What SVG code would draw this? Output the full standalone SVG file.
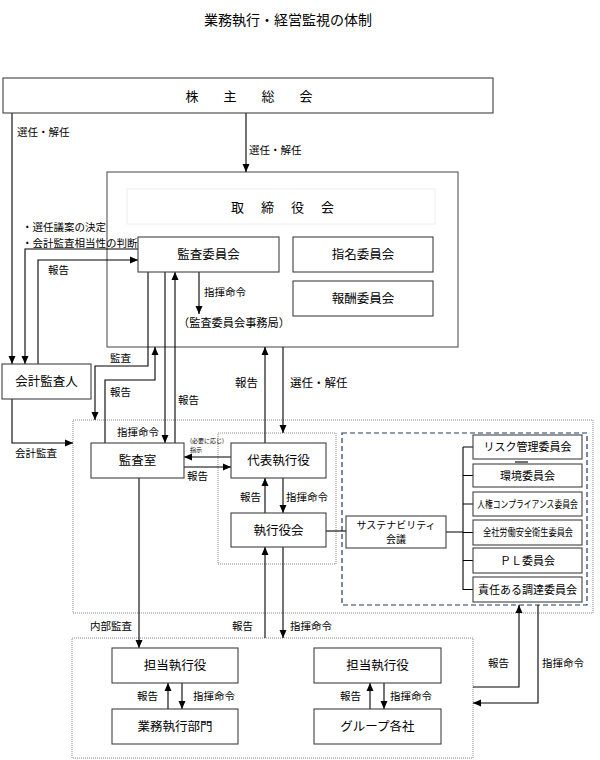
<svg xmlns="http://www.w3.org/2000/svg" width="600" height="760" viewBox="0 0 600 760">
<style>
text{font-family:"Noto Sans CJK JP","Noto Sans CJK SC",sans-serif;fill:#000}
.box{fill:#fff;stroke:#404040;stroke-width:1.1}
.bt{font-size:12.5px;text-anchor:middle}
.lb{font-size:10.5px}
.ct{font-size:11px;text-anchor:middle}
.dot{fill:none;stroke:#8a8a8a;stroke-width:1;stroke-dasharray:1 1}
.blue{fill:none;stroke:#1F3864;stroke-width:1.2;stroke-dasharray:5 3}
.ln{fill:none;stroke:#000;stroke-width:1.1}
.ar{fill:none;stroke:#000;stroke-width:1.1;marker-end:url(#ah)}
</style>
<defs>
<marker id="ah" markerUnits="userSpaceOnUse" markerWidth="8" markerHeight="8" viewBox="0 0 8 8" refX="8" refY="4" orient="auto">
<path d="M0,0.5 L8,4 L0,7.5 Z" fill="#000"/>
</marker>
</defs>
<rect width="600" height="760" fill="#fff"/>
<text x="204" y="25" style="font-size:14px">業務執行・経営監視の体制</text>

<g id="board">
<rect class="box" x="107" y="172" width="351" height="175" style="stroke:#555"/>
<rect x="127" y="189" width="308" height="35" fill="#fff" stroke="#eeeeee" stroke-width="1"/>
<text x="231" y="211.5" style="font-size:13px;letter-spacing:2px">取　締　役　会</text>
</g>

<g id="containers">
<rect class="dot" x="73" y="420" width="520" height="193"/>
<rect class="dot" x="218" y="433" width="118" height="131"/>
<rect class="blue" x="342" y="433" width="245" height="172"/>
<rect class="dot" x="72" y="638" width="401" height="120"/>
</g>

<g id="connectors">
<path class="ar" d="M12,113 V364"/>
<path class="ar" d="M246,113 V172"/>
<path class="ar" d="M138,249 H25 V364"/>
<path class="ar" d="M38,364 V260 H138"/>
<path class="ar" d="M148,272 V366 H95 V420"/>
<path class="ar" d="M165,272 V443"/>
<path class="ar" d="M175,443 V272"/>
<path class="ar" d="M105,443 V380 H155 V347"/>
<path class="ar" d="M199,272 V314"/>
<path class="ar" d="M265,443 V347"/>
<path class="ar" d="M283,347 V433"/>
<path class="ar" d="M12,399 V443 H73"/>
<path class="ar" d="M231,457 H184"/>
<path class="ar" d="M184,467 H231"/>
<path class="ar" d="M265,513 V478"/>
<path class="ar" d="M283,478 V513"/>
<path class="ln" d="M326,531 H346"/>
<path class="ln" d="M446,532 H463 M463,447 V590 M463,447 H473 M463,475.5 H473 M463,504 H473 M463,532.5 H473 M463,560.5 H473 M463,589.5 H473"/>
<path class="ln" d="M515,462 H528"/>
<path class="ar" d="M139,478 V648"/>
<path class="ar" d="M265,638 V547"/>
<path class="ar" d="M283,547 V638"/>
<path class="ar" d="M168,709 V683"/>
<path class="ar" d="M182,683 V709"/>
<path class="ar" d="M370,709 V683"/>
<path class="ar" d="M384,683 V709"/>
<path class="ar" d="M473,687 H519 V605"/>
<path class="ar" d="M538,605 V703 H473"/>
</g>

<g id="labels">
<text class="lb" x="17" y="136">選任・解任</text>
<text class="lb" x="249" y="154">選任・解任</text>
<text class="lb" x="22" y="231">・選任議案の決定</text>
<text class="lb" x="22" y="247">・会計監査相当性の判断</text>
<text class="lb" x="48" y="274">報告</text>
<text class="lb" x="204" y="296">指揮命令</text>
<text x="178" y="327" style="font-size:11.2px">（監査委員会事務局）</text>
<text class="lb" x="110" y="362">監査</text>
<text class="lb" x="110" y="396">報告</text>
<text class="lb" x="178" y="404">報告</text>
<text class="lb" x="117" y="436">指揮命令</text>
<text x="235" y="387" style="font-size:11.5px">報告</text>
<text x="290" y="387" style="font-size:11.5px">選任・解任</text>
<text class="lb" x="15" y="457">会計監査</text>
<text x="190" y="443" style="font-size:6px">(必要に応じ)</text>
<text x="190" y="451.5" style="font-size:6px">指示</text>
<text class="lb" x="187" y="480">報告</text>
<text class="lb" x="240" y="501">報告</text>
<text class="lb" x="286" y="501">指揮命令</text>
<text class="lb" x="90" y="630">内部監査</text>
<text class="lb" x="232" y="630">報告</text>
<text class="lb" x="290" y="630">指揮命令</text>
<text class="lb" x="137" y="700">報告</text>
<text class="lb" x="193" y="700">指揮命令</text>
<text class="lb" x="340" y="700">報告</text>
<text class="lb" x="390" y="700">指揮命令</text>
<text class="lb" x="488" y="667">報告</text>
<text class="lb" x="542" y="667">指揮命令</text>
</g>

<g id="shareholders">
<rect class="box" x="3" y="78" width="490" height="35"/>
<text x="185.5" y="100.5" style="font-size:13px;letter-spacing:6px">株　主　総　会</text>
</g>

<g id="audit-committee">
<rect class="box" x="138" y="237" width="141" height="35"/>
<text class="bt" x="208.5" y="259">監査委員会</text>
</g>
<g id="nomination-committee">
<rect class="box" x="293" y="237" width="140" height="35"/>
<text class="bt" x="363" y="259">指名委員会</text>
</g>
<g id="compensation-committee">
<rect class="box" x="293" y="281" width="140" height="35"/>
<text class="bt" x="363" y="303">報酬委員会</text>
</g>

<g id="accounting-auditor">
<rect class="box" x="2" y="364" width="89" height="35"/>
<text class="bt" x="46.5" y="386">会計監査人</text>
</g>

<g id="audit-office">
<rect class="box" x="91" y="443" width="93" height="35"/>
<text class="bt" x="137.5" y="465">監査室</text>
</g>

<g id="ceo">
<rect class="box" x="231" y="443" width="95" height="35"/>
<text class="bt" x="278.5" y="465">代表執行役</text>
</g>

<g id="exec-committee">
<rect class="box" x="231" y="513" width="95" height="34"/>
<text class="bt" x="278.5" y="534.5">執行役会</text>
</g>

<g id="sustainability">
<rect class="box" x="346" y="516" width="100" height="32"/>
<text x="396" y="529" style="font-size:10px;text-anchor:middle">サステナビリティ</text>
<text x="396" y="543" style="font-size:10px;text-anchor:middle">会議</text>
</g>

<g id="risk">
<rect class="box" x="473" y="435" width="109" height="24"/>
<text class="ct" x="527.5" y="451">リスク管理委員会</text>
</g>
<g id="env">
<rect class="box" x="473" y="464" width="109" height="23"/>
<text class="ct" x="527.5" y="479.5">環境委員会</text>
</g>
<g id="human-rights">
<rect class="box" x="473" y="492" width="109" height="24"/>
<text transform="translate(527.5,507.5) scale(0.78,1)" x="0" y="0" style="font-size:10px;text-anchor:middle">人権コンプライアンス委員会</text>
</g>
<g id="safety">
<rect class="box" x="473" y="520" width="109" height="25"/>
<text transform="translate(528,536) scale(0.82,1)" x="0" y="0" style="font-size:10px;text-anchor:middle">全社労働安全衛生委員会</text>
</g>
<g id="pl">
<rect class="box" x="473" y="548" width="109" height="25"/>
<text class="ct" x="527.5" y="564.5">ＰＬ委員会</text>
</g>
<g id="procurement">
<rect class="box" x="473" y="577" width="109" height="25"/>
<text class="ct" x="527.5" y="593.5">責任ある調達委員会</text>
</g>

<g id="officer-left">
<rect class="box" x="112" y="648" width="126" height="35"/>
<text class="bt" x="175" y="670">担当執行役</text>
</g>
<g id="business-dept">
<rect class="box" x="112" y="709" width="126" height="35"/>
<text class="bt" x="175" y="731">業務執行部門</text>
</g>
<g id="officer-right">
<rect class="box" x="314" y="648" width="127" height="35"/>
<text class="bt" x="377.5" y="670">担当執行役</text>
</g>
<g id="group-companies">
<rect class="box" x="314" y="709" width="127" height="35"/>
<text class="bt" x="377.5" y="731">グループ各社</text>
</g>
</svg>
